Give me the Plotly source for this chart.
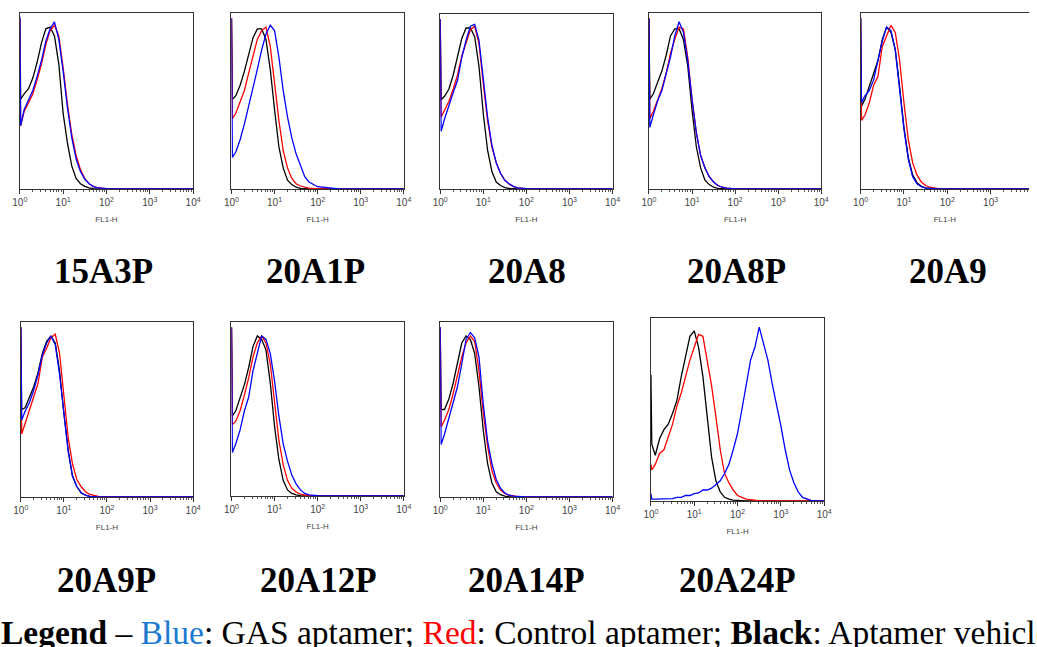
import plotly.graph_objects as go

W, H = 1037, 647

# ---------------- data (FL1-H channel, log10 decades; counts as % of panel max) -------------
FL1_LOG = [0, 0.02, 0.1, 0.2, 0.3, 0.4, 0.5, 0.6, 0.7, 0.8, 0.9, 1.0, 1.1, 1.2,
           1.3, 1.4, 1.5, 1.6, 1.7, 1.8, 2.0, 2.5, 3.0, 4.0]

FL1_LOG_24 = [0, 0.02, 0.1, 0.2, 0.3, 0.4, 0.5, 0.6, 0.7, 0.8, 0.9, 1.0, 1.1, 1.2,
              1.3, 1.4, 1.5, 1.6, 1.7, 1.8, 1.9, 2.0, 2.1, 2.2, 2.3, 2.4, 2.5, 2.6,
              2.7, 2.8, 2.9, 3.0, 3.1, 3.2, 3.3, 3.4, 3.5, 3.6, 3.7, 3.8, 4.0]

SAMPLES = ["15A3P", "20A1P", "20A8", "20A8P", "20A9",
           "20A9P", "20A12P", "20A14P", "20A24P"]

black_15A3P = [97, 51, 54, 57, 63, 72, 83, 91, 92, 87, 71, 43, 26, 13, 6, 3, 1.5, 0.6, 0.2, 0.1, 0, 0, 0, 0]
red_15A3P = [97, 36, 44, 49, 54, 62, 71, 82, 90, 93, 87, 69, 48, 31, 19, 11, 6, 3, 1.5, 0.7, 0.2, 0, 0, 0]
blue_15A3P = [98, 36, 45, 51, 56, 64, 73, 84, 91, 95, 85, 67, 46, 29, 17, 10, 5.5, 3, 1.4, 0.6, 0.2, 0, 0, 0]

black_20A1P = [97, 51, 53, 59, 67, 77, 86, 91, 91, 85, 68, 45, 24, 12, 5, 2.5, 1, 0.4, 0.1, 0, 0, 0, 0, 0]
red_20A1P = [97, 40, 43, 49, 56, 66, 76, 85, 90, 92, 81, 60, 39, 22, 12, 6, 3, 1.7, 1, 0.5, 0.1, 0, 0, 0]
blue_20A1P = [97, 18, 21, 28, 37, 47, 57, 68, 79, 88, 93, 90, 75, 56, 41, 29, 20, 13, 7, 4, 1.3, 0, 0, 0]

black_20A8 = [97, 51, 53, 57, 65, 75, 86, 92, 92, 87, 70, 43, 22, 10, 4, 2, 0.8, 0.3, 0.1, 0, 0, 0, 0, 0]
red_20A8 = [97, 41, 45, 50, 57, 65, 76, 83, 91, 93, 83, 60, 39, 24, 15, 9, 5, 2.7, 1.3, 0.6, 0.2, 0, 0, 0]
blue_20A8 = [97, 33, 40, 48, 55, 62, 75, 85, 93, 94, 85, 63, 41, 25, 15, 9, 5, 3, 1.5, 0.7, 0.2, 0, 0, 0]

black_20A8P = [97, 51, 54, 60, 67, 76, 87, 91, 91, 85, 70, 45, 24, 12, 5, 2.5, 1, 0.4, 0.1, 0, 0, 0, 0, 0]
red_20A8P = [97, 40, 44, 51, 57, 66, 77, 85, 92, 91, 75, 51, 32, 19, 12, 7, 4, 2, 1, 0.5, 0.1, 0, 0, 0]
blue_20A8P = [97, 35, 42, 50, 56, 65, 75, 87, 95, 89, 73, 51, 32, 19, 12, 7, 4, 2, 1, 0.5, 0.1, 0, 0, 0]

black_20A9 = [97, 47, 51, 58, 65, 73, 85, 92, 89, 79, 58, 35, 18, 8, 3.6, 1.5, 0.6, 0.2, 0.1, 0, 0, 0, 0, 0]
red_20A9 = [97, 39, 42, 49, 59, 64, 81, 87, 93, 89, 73, 49, 28, 15, 8, 4, 2, 1, 0.5, 0.2, 0, 0, 0, 0]
blue_20A9 = [97, 49, 53, 56, 62, 74, 84, 92, 90, 79, 56, 34, 17, 7, 3, 1.3, 0.5, 0.2, 0.1, 0, 0, 0, 0, 0]

black_20A9P = [97, 50, 51, 57, 63, 71, 82, 89, 92, 88, 72, 48, 27, 12, 6, 2.3, 1, 0.4, 0.1, 0, 0, 0, 0, 0]
red_20A9P = [97, 36, 42, 50, 57, 65, 80, 85, 91, 93, 82, 57, 34, 19, 10, 6, 3, 1.5, 0.7, 0.3, 0.1, 0, 0, 0]
blue_20A9P = [97, 44, 49, 54, 61, 70, 81, 88, 92, 87, 70, 46, 26, 12, 6, 2.5, 1, 0.4, 0.1, 0, 0, 0, 0, 0]

black_20A12P = [97, 46, 49, 57, 64, 74, 86, 92, 90, 84, 65, 40, 21, 9, 3.5, 1.5, 0.6, 0.2, 0.1, 0, 0, 0, 0, 0]
red_20A12P = [97, 41, 43, 49, 58, 68, 80, 88, 92, 88, 76, 53, 32, 18, 9, 4.4, 2.3, 1.1, 0.5, 0.2, 0, 0, 0, 0]
blue_20A12P = [97, 25, 30, 38, 49, 57, 72, 82, 92, 90, 82, 66, 46, 30, 20, 12, 7, 3.5, 1.5, 0.7, 0.2, 0, 0, 0]

black_20A14P = [97, 50, 50, 56, 65, 76, 88, 92, 90, 82, 63, 38, 19, 8, 3, 1.3, 0.5, 0.2, 0.1, 0, 0, 0, 0, 0]
red_20A14P = [97, 40, 44, 50, 59, 69, 80, 88, 92, 89, 72, 48, 29, 15, 8, 4, 2, 1, 0.4, 0.2, 0, 0, 0, 0]
blue_20A14P = [97, 30, 36, 45, 53, 63, 76, 90, 94, 91, 80, 53, 32, 19, 10, 5, 2.3, 1.1, 0.5, 0.2, 0, 0, 0, 0]

black_20A24P = [69, 31, 25, 34, 39, 42, 48, 55, 68, 79, 90, 93, 84, 68, 44, 24, 11, 5, 2, 1, 0.5, 0.2,
                0, 0, 0, 0, 0, 0, 0, 0, 0, 0, 0, 0, 0, 0, 0, 0, 0, 0, 0]
red_20A24P = [20, 17, 20, 26, 28, 35, 42, 52, 59, 68, 77, 84, 91, 90, 77, 63, 46, 28, 15, 10, 6, 3,
              2, 1, 0.7, 0.3, 0, 0, 0, 0, 0, 0, 0, 0, 0, 0, 0, 0, 0, 0, 0]
blue_20A24P = [4, 1, 1, 1, 1, 1, 1.3, 2, 2, 3, 3, 4, 4.4, 6, 6, 7, 9, 11, 15, 20, 28, 37,
               50, 63, 77, 84, 95, 86, 77, 64, 53, 41, 28, 17, 10, 5, 2, 1, 0.3, 0, 0]

TICK_VALS = [1, 10, 100, 1000, 10000]
TICK_TEXT = ["10<sup>0</sup>", "10<sup>1</sup>", "10<sup>2</sup>", "10<sup>3</sup>", "10<sup>4</sup>"]
AXIS_TITLE = "FL1-H"

LEGEND_HTML = ("<b>Legend</b> – <span style='color:#1b7ad0'>Blue</span>: GAS aptamer; "
               "<span style='color:#ff0000'>Red</span>: Control aptamer; "
               "<b>Black</b>: Aptamer vehicle")

PANEL_DATA = {
    "15A3P": (FL1_LOG, black_15A3P, red_15A3P, blue_15A3P),
    "20A1P": (FL1_LOG, black_20A1P, red_20A1P, blue_20A1P),
    "20A8": (FL1_LOG, black_20A8, red_20A8, blue_20A8),
    "20A8P": (FL1_LOG, black_20A8P, red_20A8P, blue_20A8P),
    "20A9": (FL1_LOG, black_20A9, red_20A9, blue_20A9),
    "20A9P": (FL1_LOG, black_20A9P, red_20A9P, blue_20A9P),
    "20A12P": (FL1_LOG, black_20A12P, red_20A12P, blue_20A12P),
    "20A14P": (FL1_LOG, black_20A14P, red_20A14P, blue_20A14P),
    "20A24P": (FL1_LOG_24, black_20A24P, red_20A24P, blue_20A24P),
}

# ---------------- layout (pixel boxes: left, right, top, bottom) -------------
BOXES = {
    "15A3P": (12, 188, 13, 189),
    "20A1P": (227, 402, 13, 189),
    "20A8": (439, 614, 14, 189),
    "20A8P": (651, 826, 13, 189),
    "20A9": (866, 1037, 13, 189),
    "20A9P": (13, 188, 322, 497),
    "20A12P": (227, 402, 322, 496),
    "20A14P": (439, 614, 322, 497),
    "20A24P": (653, 829, 318, 501),
}
TITLE_POS = {
    "15A3P": (97, 271), "20A1P": (312, 271), "20A8": (527, 271),
    "20A8P": (740, 271), "20A9": (955, 271),
    "20A9P": (100, 580), "20A12P": (315, 580), "20A14P": (527, 580),
    "20A24P": (741, 580),
}

COLORS = {"black": "#000000", "red": "#ff0000", "blue": "#0000ff"}

fig = go.Figure()
layout = dict(
    width=W, height=H, margin=dict(l=0, r=0, t=0, b=0),
    paper_bgcolor="white", plot_bgcolor="white", showlegend=False,
)
annotations = []

for i, name in enumerate(SAMPLES, start=1):
    xs_log, blk, red, blu = PANEL_DATA[name]
    xs = [10 ** v for v in xs_log]
    xa = "x" if i == 1 else f"x{i}"
    ya = "y" if i == 1 else f"y{i}"
    for key, ys in (("black", blk), ("red", red), ("blue", blu)):
        fig.add_trace(go.Scatter(x=xs, y=ys, mode="lines", xaxis=xa, yaxis=ya,
                                 line=dict(color=COLORS[key], width=1.3),
                                 hoverinfo="skip"))
    l, r, t, b = BOXES[name]
    full = (r - l) >= 174
    xr = [0, 4] if full else [0, 4 * (r - l) / 176.0]
    layout["xaxis" if i == 1 else f"xaxis{i}"] = dict(
        type="log", range=xr, domain=[l / W, r / W], anchor=ya,
        tickvals=TICK_VALS, ticktext=TICK_TEXT,
        ticks="outside", ticklen=4, tickwidth=1, tickcolor="#333",
        minor=dict(ticks="outside", ticklen=2, tickwidth=1, tickcolor="#555", dtick="D1",
                   showgrid=False),
        showgrid=False, zeroline=False,
        showline=True, linecolor="#333", linewidth=1, mirror=True,
        tickfont=dict(family="Liberation Sans, Arial", size=10, color="#444"),
        title=dict(text=AXIS_TITLE, font=dict(family="Liberation Sans, Arial", size=8, color="#444"),
                   standoff=9),
        fixedrange=True,
    )
    layout["yaxis" if i == 1 else f"yaxis{i}"] = dict(
        range=[0, 100], domain=[1 - b / H, 1 - t / H], anchor=xa,
        showticklabels=False, ticks="", showgrid=False, zeroline=False,
        showline=True, linecolor="#333", linewidth=1, mirror=full,
        fixedrange=True,
    )
    cx, cy = TITLE_POS[name]
    annotations.append(dict(
        text=f"<b>{name}</b>", x=cx / W, y=1 - cy / H, xref="paper", yref="paper",
        xanchor="center", yanchor="middle", showarrow=False,
        font=dict(family="Liberation Serif, Times New Roman, serif", size=35, color="black"),
    ))

annotations.append(dict(
    text=LEGEND_HTML, x=-9 / W, y=1 - 632 / H, xref="paper", yref="paper",
    xanchor="left", yanchor="middle", showarrow=False, align="left",
    font=dict(family="Liberation Serif, Times New Roman, serif", size=33.5, color="black"),
))

layout["annotations"] = annotations
fig.update_layout(**layout)
fig.write_html("out.html")
